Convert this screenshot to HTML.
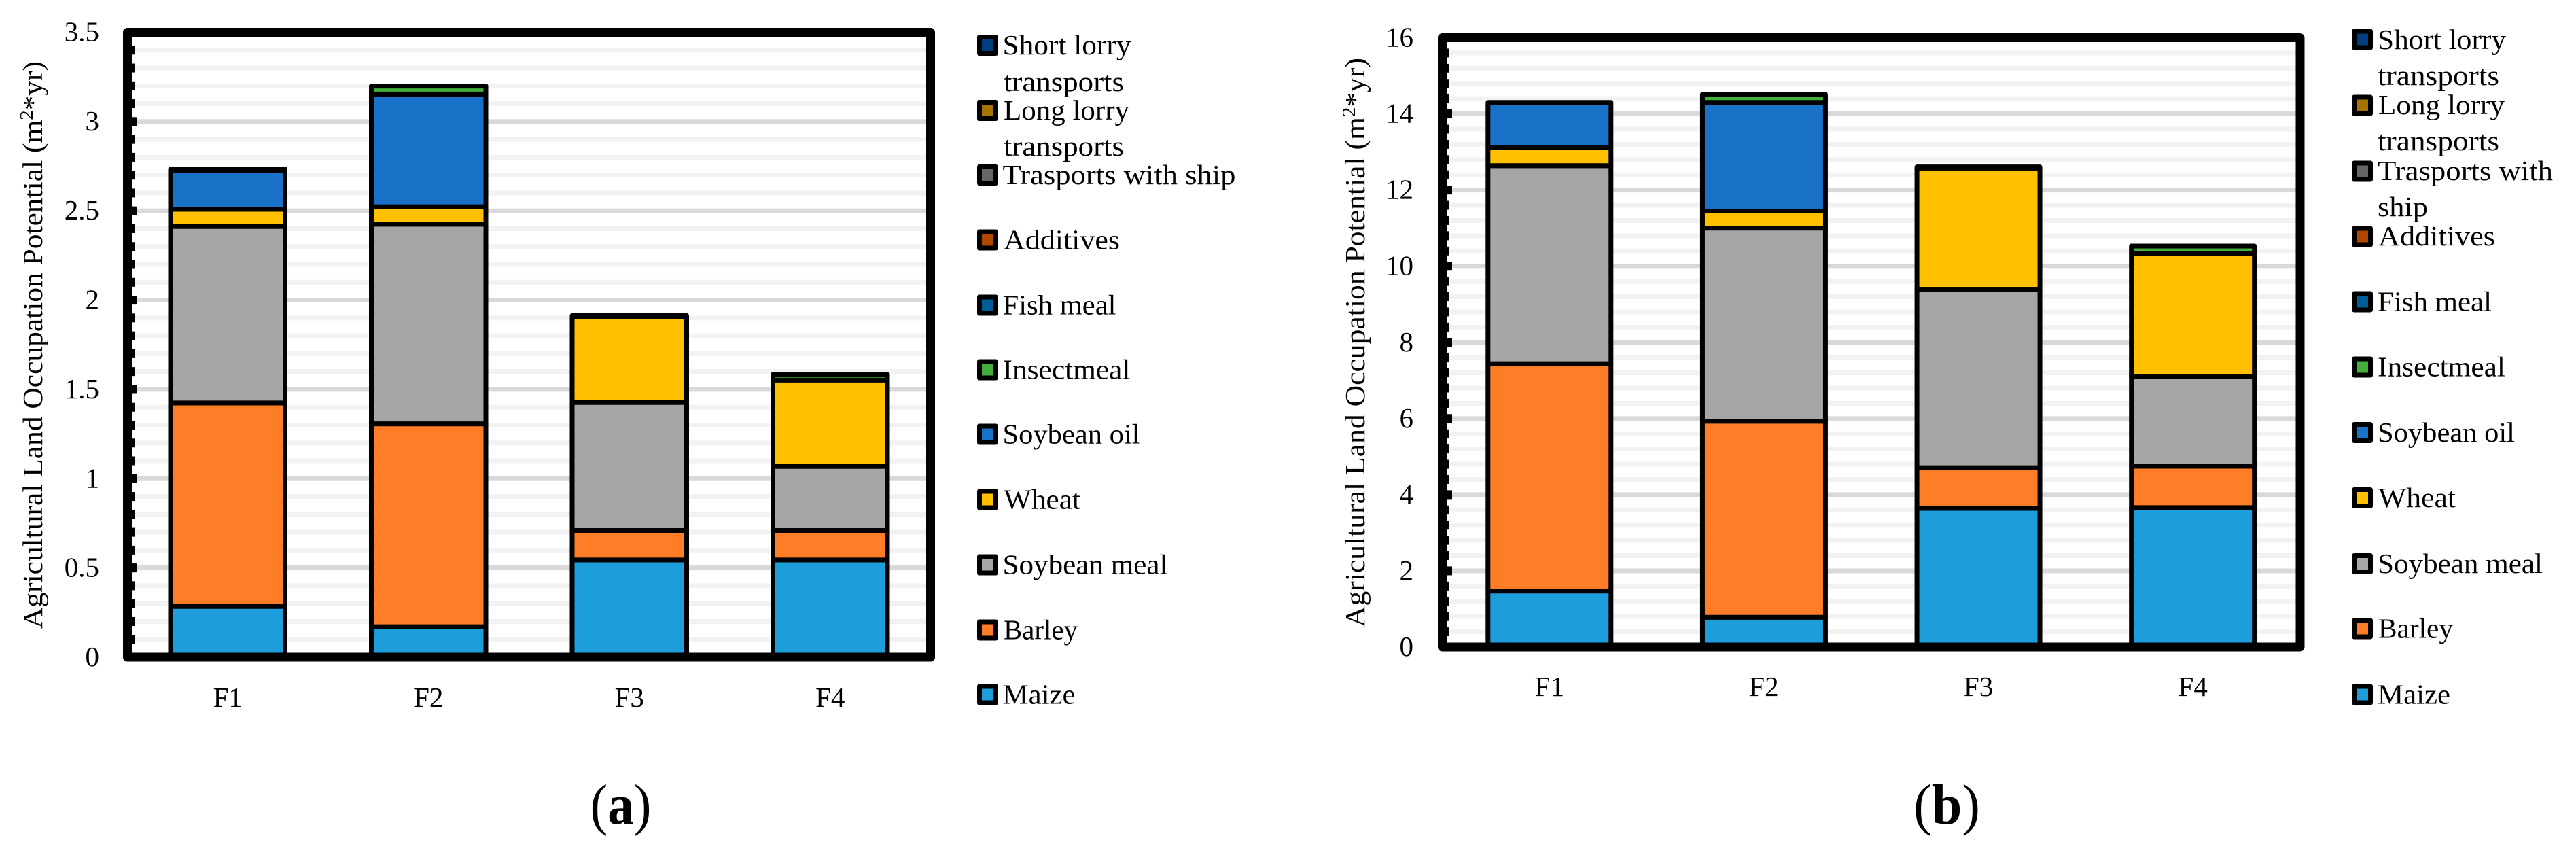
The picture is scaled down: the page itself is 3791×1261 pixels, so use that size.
<!DOCTYPE html>
<html>
<head>
<meta charset="utf-8">
<title>Agricultural Land Occupation Potential</title>
<style>
html,body{margin:0;padding:0;background:#fff;}
svg{display:block;}
text{font-family:"Liberation Serif",serif;fill:#000;}
.leg{font-size:41px;}
.tick{font-size:41px;text-anchor:end;}
.cat{font-size:41px;text-anchor:middle;}
.ttl{font-size:41px;}
.cap{font-size:84px;text-anchor:middle;}
.sw{stroke:#000;stroke-width:7;stroke-linejoin:round;}
</style>
</head>
<body>
<svg id="fig" xmlns="http://www.w3.org/2000/svg" width="3791" height="1261" viewBox="0 0 3791 1261">
  <rect x="0" y="0" width="3791" height="1261" fill="#fff"/>
  <g id="chart-a"></g>
  <g id="chart-b"></g>

  <text class="ttl" transform="translate(62,925) rotate(-90)" textLength="835" lengthAdjust="spacingAndGlyphs">Agricultural Land Occupation Potential (m<tspan dy="-14" font-size="27">2</tspan><tspan dy="14">*yr)</tspan></text>
  <text class="ttl" transform="translate(2008,923) rotate(-90)" textLength="838" lengthAdjust="spacingAndGlyphs">Agricultural Land Occupation Potential (m<tspan dy="-14" font-size="27">2</tspan><tspan dy="14">*yr)</tspan></text>

  <text class="cap" x="913.5" y="1212" textLength="90" lengthAdjust="spacingAndGlyphs">(<tspan font-weight="bold">a</tspan>)</text>
  <text class="cap" x="2865" y="1212" textLength="98" lengthAdjust="spacingAndGlyphs">(<tspan font-weight="bold">b</tspan>)</text>

  <g>
    <g><rect class="sw" x="1441.5" y="54.5" width="24" height="24" fill="#003F7D"/><text class="leg" x="1475.5" y="80" textLength="189" lengthAdjust="spacingAndGlyphs">Short lorry</text><text class="leg" x="1477" y="134" textLength="177" lengthAdjust="spacingAndGlyphs">transports</text></g>
    <g><rect class="sw" x="1441.5" y="150.5" width="24" height="24" fill="#A67500"/><text class="leg" x="1477" y="176" textLength="185" lengthAdjust="spacingAndGlyphs">Long lorry</text><text class="leg" x="1477" y="229" textLength="177" lengthAdjust="spacingAndGlyphs">transports</text></g>
    <g><rect class="sw" x="1441.5" y="245.5" width="24" height="24" fill="#666666"/><text class="leg" x="1475.5" y="271" textLength="343" lengthAdjust="spacingAndGlyphs">Trasports with ship</text></g>
    <g><rect class="sw" x="1441.5" y="341" width="24" height="24" fill="#B04800"/><text class="leg" x="1477" y="366.500" textLength="171" lengthAdjust="spacingAndGlyphs">Additives</text></g>
    <g><rect class="sw" x="1441.5" y="437" width="24" height="24" fill="#005E96"/><text class="leg" x="1475.5" y="462.500" textLength="167" lengthAdjust="spacingAndGlyphs">Fish meal</text></g>
    <g><rect class="sw" x="1441.5" y="532" width="24" height="24" fill="#44B03B"/><text class="leg" x="1475.5" y="557.500" textLength="188" lengthAdjust="spacingAndGlyphs">Insectmeal</text></g>
    <g><rect class="sw" x="1441.5" y="627" width="24" height="24" fill="#1A72C8"/><text class="leg" x="1475.5" y="652.500" textLength="202" lengthAdjust="spacingAndGlyphs">Soybean oil</text></g>
    <g><rect class="sw" x="1441.5" y="723" width="24" height="24" fill="#FFC000"/><text class="leg" x="1477" y="748.500" textLength="113" lengthAdjust="spacingAndGlyphs">Wheat</text></g>
    <g><rect class="sw" x="1441.5" y="819" width="24" height="24" fill="#A6A6A6"/><text class="leg" x="1475.5" y="844.500" textLength="243" lengthAdjust="spacingAndGlyphs">Soybean meal</text></g>
    <g><rect class="sw" x="1441.5" y="915" width="24" height="24" fill="#FF7D27"/><text class="leg" x="1477" y="940.500" textLength="109" lengthAdjust="spacingAndGlyphs">Barley</text></g>
    <g><rect class="sw" x="1441.5" y="1010" width="24" height="24" fill="#1E9DDB"/><text class="leg" x="1475.500" y="1035.500" textLength="107" lengthAdjust="spacingAndGlyphs">Maize</text></g>
  </g>

  <g>
    <g><rect class="sw" x="3464.5" y="46" width="24" height="24" fill="#003F7D"/><text class="leg" x="3499" y="72" textLength="189" lengthAdjust="spacingAndGlyphs">Short lorry</text><text class="leg" x="3499" y="125" textLength="179" lengthAdjust="spacingAndGlyphs">transports</text></g>
    <g><rect class="sw" x="3464.5" y="143" width="24" height="24" fill="#A67500"/><text class="leg" x="3500" y="168" textLength="186" lengthAdjust="spacingAndGlyphs">Long lorry</text><text class="leg" x="3499" y="221" textLength="179" lengthAdjust="spacingAndGlyphs">transports</text></g>
    <g><rect class="sw" x="3464.5" y="240" width="24" height="24" fill="#666666"/><text class="leg" x="3499" y="265" textLength="258" lengthAdjust="spacingAndGlyphs">Trasports with</text><text class="leg" x="3499" y="318" textLength="74" lengthAdjust="spacingAndGlyphs">ship</text></g>
    <g><rect class="sw" x="3464.5" y="336" width="24" height="24" fill="#B04800"/><text class="leg" x="3500" y="361" textLength="172" lengthAdjust="spacingAndGlyphs">Additives</text></g>
    <g><rect class="sw" x="3464.5" y="432" width="24" height="24" fill="#005E96"/><text class="leg" x="3499" y="457.500" textLength="168" lengthAdjust="spacingAndGlyphs">Fish meal</text></g>
    <g><rect class="sw" x="3464.5" y="528" width="24" height="24" fill="#44B03B"/><text class="leg" x="3499" y="553.500" textLength="188" lengthAdjust="spacingAndGlyphs">Insectmeal</text></g>
    <g><rect class="sw" x="3464.5" y="624.500" width="24" height="24" fill="#1A72C8"/><text class="leg" x="3499" y="650" textLength="202" lengthAdjust="spacingAndGlyphs">Soybean oil</text></g>
    <g><rect class="sw" x="3464.5" y="720.500" width="24" height="24" fill="#FFC000"/><text class="leg" x="3500" y="746" textLength="114" lengthAdjust="spacingAndGlyphs">Wheat</text></g>
    <g><rect class="sw" x="3464.5" y="817.500" width="24" height="24" fill="#A6A6A6"/><text class="leg" x="3499" y="843" textLength="243" lengthAdjust="spacingAndGlyphs">Soybean meal</text></g>
    <g><rect class="sw" x="3464.5" y="913" width="24" height="24" fill="#FF7D27"/><text class="leg" x="3500" y="938.500" textLength="110" lengthAdjust="spacingAndGlyphs">Barley</text></g>
    <g><rect class="sw" x="3464.5" y="1010" width="24" height="24" fill="#1E9DDB"/><text class="leg" x="3499" y="1035.500" textLength="107" lengthAdjust="spacingAndGlyphs">Maize</text></g>
  </g>
</svg>

<script>
// Shared categories and series
var categories = ['F1', 'F2', 'F3', 'F4'];
var seriesNames = ['maize', 'barley', 'soybean-meal', 'wheat', 'soybean-oil', 'insectmeal', 'fish-meal', 'additives', 'ship', 'long-lorry', 'short-lorry'];
var seriesColors = ['#1E9DDB', '#FF7D27', '#A6A6A6', '#FFC000', '#1A72C8', '#44B03B', '#005E96', '#B04800', '#666666', '#A67500', '#003F7D'];

// Chart (a) values, one array per series, F1..F4
var maizeA = [0.285, 0.171, 0.545, 0.545];
var barleyA = [1.139, 1.136, 0.165, 0.165];
var soybeanMealA = [0.989, 1.118, 0.717, 0.359];
var wheatA = [0.096, 0.098, 0.482, 0.483];
var soybeanOilA = [0.218, 0.631, 0, 0];
var insectmealA = [0.008, 0.045, 0.004, 0.031];
var fishMealA = [0, 0, 0, 0];
var additivesA = [0, 0, 0, 0];
var shipA = [0, 0, 0, 0];
var longLorryA = [0, 0, 0, 0];
var shortLorryA = [0, 0, 0, 0];
var tickLabelsA = ['0', '0.5', '1', '1.5', '2', '2.5', '3', '3.5'];

// Chart (b) values, one array per series, F1..F4
var maizeB = [1.47, 0.78, 3.64, 3.66];
var barleyB = [5.97, 5.15, 1.07, 1.09];
var soybeanMealB = [5.20, 5.07, 4.67, 2.36];
var wheatB = [0.48, 0.45, 3.19, 3.22];
var soybeanOilB = [1.18, 2.85, 0, 0];
var insectmealB = [0, 0.21, 0.036, 0.20];
var fishMealB = [0, 0, 0, 0];
var additivesB = [0, 0, 0, 0];
var shipB = [0, 0, 0, 0];
var longLorryB = [0, 0, 0, 0];
var shortLorryB = [0, 0, 0, 0];
var tickLabelsB = ['0', '2', '4', '6', '8', '10', '12', '14', '16'];

var NS = 'http://www.w3.org/2000/svg';

function mk(parent, tag, attrs) {
  var el = document.createElementNS(NS, tag);
  for (var k in attrs) el.setAttribute(k, attrs[k]);
  parent.appendChild(el);
  return el;
}

function drawChart(root, series, tickLabels, frame, axisMax, minorStep, barWidth, labelRight, catBaseline) {
  function y(v) { return frame.bottom - (v / axisMax) * (frame.bottom - frame.top); }
  function x(i) { return frame.left + (i + 0.5) * (frame.right - frame.left) / categories.length; }

  // Minor gridlines and ticks
  var minorCount = Math.round(axisMax / minorStep);
  for (var m = 1; m < minorCount; m++) {
    var gy = y(m * minorStep);
    var minorLine = mk(root, 'line', {x1: frame.left, x2: frame.right, y1: gy, y2: gy, stroke: '#F2F2F2', 'stroke-width': 7});
    
    
  }
  // Major gridlines
  tickLabels.forEach(function (label) {
    var v = parseFloat(label);
    if (v === 0 || v === axisMax) return;
    var majorLine = mk(root, 'line', {x1: frame.left, x2: frame.right, y1: y(v), y2: y(v), stroke: '#D9D9D9', 'stroke-width': 7});
    
    
  });

  // Stacked bars
  categories.forEach(function (cat, i) {
    var base = 0;
    series.forEach(function (values, s) {
      var val = values[i];
      if (!val) return;
      var top = base + val;
      var seg = mk(root, 'rect', {
        x: x(i) - barWidth / 2, y: y(top), width: barWidth, height: y(base) - y(top),
        fill: seriesColors[s], stroke: '#000', 'stroke-width': 7, 'stroke-linejoin': 'round'
      });
      
      
      base = top;
    });
  });

  // Plot frame
  var box = mk(root, 'rect', {x: frame.left, y: frame.top, width: frame.right - frame.left, height: frame.bottom - frame.top, fill: 'none', stroke: '#000', 'stroke-width': 13, 'stroke-linejoin': 'round'});
  
  

  // Tick marks
  for (var t = 1; t < minorCount; t++) {
    var ty = y(t * minorStep);
    var minorTick = mk(root, 'line', {x1: frame.left, x2: frame.left + 10.5, y1: ty, y2: ty, stroke: '#000', 'stroke-width': 13});
    
    
  }
  tickLabels.forEach(function (label) {
    var v = parseFloat(label);
    var majorTick = mk(root, 'line', {x1: frame.left, x2: frame.left + 14.5, y1: y(v), y2: y(v), stroke: '#000', 'stroke-width': 13});
    
    
    var tl = mk(root, 'text', {'class': 'tick', x: labelRight, y: y(v) + 13});
    
    
    tl.textContent = label;
  });

  // Category labels
  categories.forEach(function (cat, i) {
    var cl = mk(root, 'text', {'class': 'cat', x: x(i), y: catBaseline});
    
    
    cl.textContent = cat;
  });
}

drawChart(document.getElementById('chart-a'),
  [maizeA, barleyA, soybeanMealA, wheatA, soybeanOilA, insectmealA, fishMealA, additivesA, shipA, longLorryA, shortLorryA],
  tickLabelsA, {left: 187.5, right: 1369.5, top: 47.5, bottom: 967}, 3.5, 0.1, 168.5, 146, 1040);

drawChart(document.getElementById('chart-b'),
  [maizeB, barleyB, soybeanMealB, wheatB, soybeanOilB, insectmealB, fishMealB, additivesB, shipB, longLorryB, shortLorryB],
  tickLabelsB, {left: 2122.5, right: 3385, top: 55.5, bottom: 952}, 16, 0.4, 181, 2080, 1024);
</script>
</body>
</html>
